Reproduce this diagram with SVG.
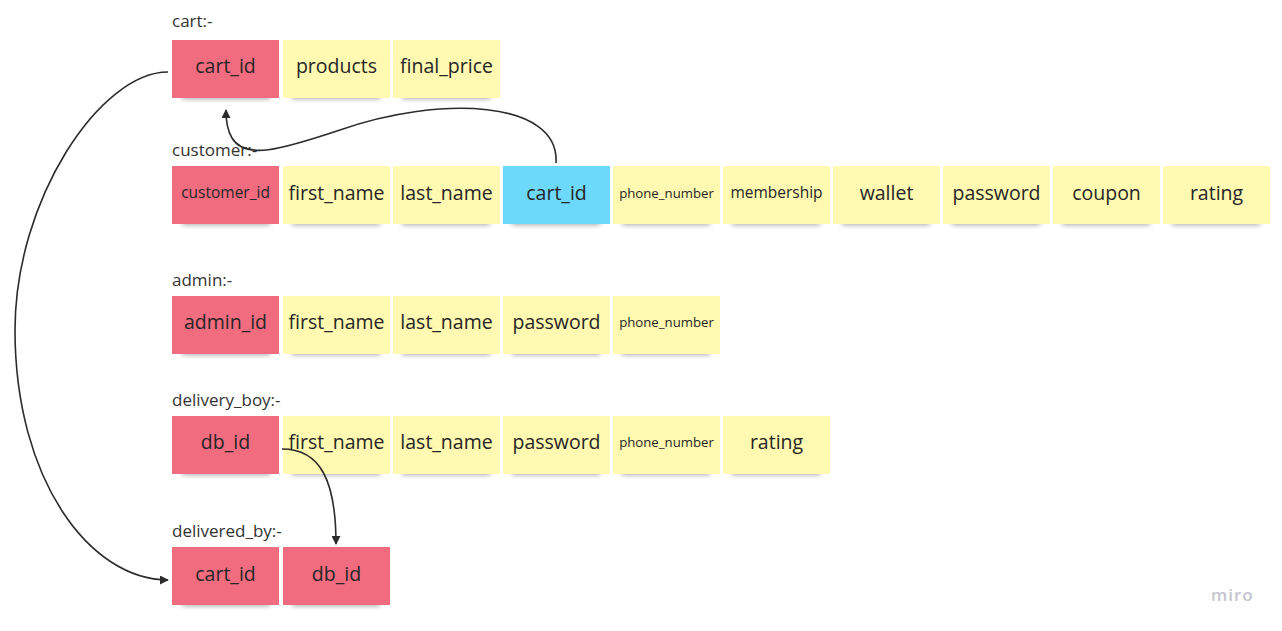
<svg xmlns="http://www.w3.org/2000/svg" width="1282" height="631" viewBox="0 0 1282 631">
<style>
.bg{fill:#ffffff}
.lbl{font-family:"Open Sans","Noto Sans",sans-serif;font-size:17px;fill:#333333}
.t{font-family:"Open Sans","Noto Sans",sans-serif;font-size:19.5px;fill:#262626;text-anchor:middle}
.s{font-size:15.5px}
.xs{font-size:13.2px}
.red{fill:#f16c7f}
.yel{fill:#fff9b1}
.blu{fill:#6cd8fa}
.sh{fill:#000;opacity:0.35;filter:url(#blur)}
.conn{fill:none;stroke:#2b2b2b;stroke-width:1.6}
.logo{font-family:"Open Sans","Noto Sans",sans-serif;font-size:17px;font-weight:600;fill:#c5c5cf;letter-spacing:1px}
</style>
<defs>
<filter id="blur" x="-20%" y="-200%" width="140%" height="500%"><feGaussianBlur stdDeviation="2.5"/></filter>
<marker id="arr" viewBox="0 0 10 10" refX="9" refY="5" markerWidth="9" markerHeight="9" markerUnits="userSpaceOnUse" orient="auto"><path d="M0,0 L10,5 L0,10 z" fill="#2b2b2b"/></marker>
</defs>
<rect class="bg" width="1282" height="631"/>

<g id="labels">
<text class="lbl" x="172" y="27">cart:-</text>
<text class="lbl" x="172" y="156">customer:-</text>
<text class="lbl" x="172" y="286">admin:-</text>
<text class="lbl" x="172" y="406">delivery_boy:-</text>
<text class="lbl" x="172" y="537">delivered_by:-</text>
</g>

<g id="cart">
<g id="cart_cart_id"><rect class="sh" x="182" y="94" width="88" height="5"/><rect class="red" x="172" y="40" width="107" height="58"/><text class="t" x="225.5" y="73">cart_id</text></g>
<g id="cart_products"><rect class="sh" x="292" y="94" width="88" height="5"/><rect class="yel" x="283" y="40" width="107" height="58"/><text class="t" x="336.5" y="73">products</text></g>
<g id="cart_final_price"><rect class="sh" x="402" y="94" width="88" height="5"/><rect class="yel" x="393" y="40" width="107" height="58"/><text class="t" x="446.5" y="73">final_price</text></g>
</g>

<g id="customer">
<g id="cust_customer_id"><rect class="sh" x="182" y="220" width="88" height="5"/><rect class="red" x="172" y="166" width="107" height="58"/><text class="t s" x="225.5" y="198">customer_id</text></g>
<g id="cust_first_name"><rect class="sh" x="292" y="220" width="88" height="5"/><rect class="yel" x="283" y="166" width="107" height="58"/><text class="t" x="336.5" y="200">first_name</text></g>
<g id="cust_last_name"><rect class="sh" x="402" y="220" width="88" height="5"/><rect class="yel" x="393" y="166" width="107" height="58"/><text class="t" x="446.5" y="200">last_name</text></g>
<g id="cust_cart_id"><rect class="sh" x="512" y="220" width="88" height="5"/><rect class="blu" x="503" y="166" width="107" height="58"/><text class="t" x="556.5" y="200">cart_id</text></g>
<g id="cust_phone_number"><rect class="sh" x="622" y="220" width="88" height="5"/><rect class="yel" x="613" y="166" width="107" height="58"/><text class="t xs" x="666.5" y="198">phone_number</text></g>
<g id="cust_membership"><rect class="sh" x="732" y="220" width="88" height="5"/><rect class="yel" x="723" y="166" width="107" height="58"/><text class="t s" x="776.5" y="198">membership</text></g>
<g id="cust_wallet"><rect class="sh" x="842" y="220" width="88" height="5"/><rect class="yel" x="833" y="166" width="107" height="58"/><text class="t" x="886.5" y="200">wallet</text></g>
<g id="cust_password"><rect class="sh" x="952" y="220" width="88" height="5"/><rect class="yel" x="943" y="166" width="107" height="58"/><text class="t" x="996.5" y="200">password</text></g>
<g id="cust_coupon"><rect class="sh" x="1062" y="220" width="88" height="5"/><rect class="yel" x="1053" y="166" width="107" height="58"/><text class="t" x="1106.5" y="200">coupon</text></g>
<g id="cust_rating"><rect class="sh" x="1172" y="220" width="88" height="5"/><rect class="yel" x="1163" y="166" width="107" height="58"/><text class="t" x="1216.5" y="200">rating</text></g>
</g>

<g id="admin">
<g id="adm_admin_id"><rect class="sh" x="182" y="350" width="88" height="5"/><rect class="red" x="172" y="296" width="107" height="58"/><text class="t" x="225.5" y="329">admin_id</text></g>
<g id="adm_first_name"><rect class="sh" x="292" y="350" width="88" height="5"/><rect class="yel" x="283" y="296" width="107" height="58"/><text class="t" x="336.5" y="329">first_name</text></g>
<g id="adm_last_name"><rect class="sh" x="402" y="350" width="88" height="5"/><rect class="yel" x="393" y="296" width="107" height="58"/><text class="t" x="446.5" y="329">last_name</text></g>
<g id="adm_password"><rect class="sh" x="512" y="350" width="88" height="5"/><rect class="yel" x="503" y="296" width="107" height="58"/><text class="t" x="556.5" y="329">password</text></g>
<g id="adm_phone_number"><rect class="sh" x="622" y="350" width="88" height="5"/><rect class="yel" x="613" y="296" width="107" height="58"/><text class="t xs" x="666.5" y="327">phone_number</text></g>
</g>

<g id="delivery_boy">
<g id="db_db_id"><rect class="sh" x="182" y="470" width="88" height="5"/><rect class="red" x="172" y="416" width="107" height="58"/><text class="t" x="225.5" y="449">db_id</text></g>
<g id="db_first_name"><rect class="sh" x="292" y="470" width="88" height="5"/><rect class="yel" x="283" y="416" width="107" height="58"/><text class="t" x="336.5" y="449">first_name</text></g>
<g id="db_last_name"><rect class="sh" x="402" y="470" width="88" height="5"/><rect class="yel" x="393" y="416" width="107" height="58"/><text class="t" x="446.5" y="449">last_name</text></g>
<g id="db_password"><rect class="sh" x="512" y="470" width="88" height="5"/><rect class="yel" x="503" y="416" width="107" height="58"/><text class="t" x="556.5" y="449">password</text></g>
<g id="db_phone_number"><rect class="sh" x="622" y="470" width="88" height="5"/><rect class="yel" x="613" y="416" width="107" height="58"/><text class="t xs" x="666.5" y="447">phone_number</text></g>
<g id="db_rating"><rect class="sh" x="732" y="470" width="88" height="5"/><rect class="yel" x="723" y="416" width="107" height="58"/><text class="t" x="776.5" y="449">rating</text></g>
</g>

<g id="delivered_by">
<g id="dby_cart_id"><rect class="sh" x="182" y="601" width="88" height="5"/><rect class="red" x="172" y="547" width="107" height="58"/><text class="t" x="225.5" y="581">cart_id</text></g>
<g id="dby_db_id"><rect class="sh" x="292" y="601" width="88" height="5"/><rect class="red" x="283" y="547" width="107" height="58"/><text class="t" x="336.5" y="581">db_id</text></g>
</g>

<g id="connectors">
<path class="conn" marker-end="url(#arr)" d="M556,163 C560,100 440,95 340,130 C280,150 245,160 232,138 C227,130 226,122 226,110"/>
<path class="conn" marker-end="url(#arr)" d="M168,72 C100,72 15,200 15,330 C15,480 90,580 168,580"/>
<path class="conn" marker-end="url(#arr)" d="M282,449 C320,449 336,480 336,544"/>
</g>

<text class="logo" x="1211" y="601">miro</text>
</svg>
